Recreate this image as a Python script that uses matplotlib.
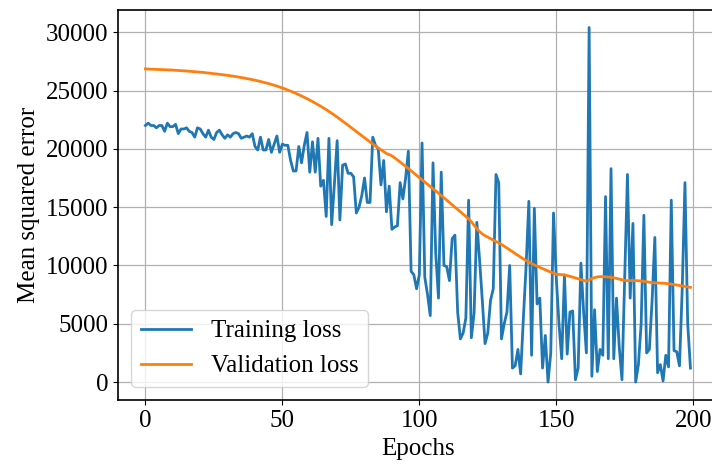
import matplotlib
matplotlib.use("Agg")
import matplotlib.pyplot as plt

plt.rcParams['font.family'] = ['Liberation Serif', 'DejaVu Serif']

# training loss per epoch (0..199)
train_loss = [
    22000, 22200, 22000, 22000, 21800, 22000, 22000, 21500, 22200, 21900,
    21900, 22100, 21300, 21700, 21700, 21800, 21500, 21400, 21000, 21800,
    21700, 21300, 21000, 21600, 21000, 20800, 21400, 21600, 21200, 20900,
    21200, 21000, 21300, 21400, 21300, 20900, 21000, 21100, 21000, 21300,
    20200, 19900, 21000, 19900, 19900, 20800, 19700, 20400, 21100, 19700,
    20400, 20300, 20300, 19000, 18100, 18100, 20200, 18800, 20300, 21400,
    18000, 20600, 18000, 20900, 16800, 17300, 14200, 20900, 13500, 17000,
    20700, 13900, 18600, 18700, 17900, 17900, 17600, 14500, 15000, 16000,
    17500, 15400, 15400, 21000, 20300, 20000, 16900, 19000, 14600, 16800,
    13100, 13300, 13400, 17100, 15700, 17500, 19800, 9500, 9200, 8000,
    9200, 20500, 9000, 7500, 5700, 18800, 11000, 7200, 18000, 10000,
    9900, 8700, 12300, 12600, 6000, 3700, 4200, 5500, 15600, 3800,
    5900, 13700, 10500, 7000, 3300, 4200, 7000, 8000, 17800, 17100,
    3700, 5000, 6000, 10000, 1200, 1400, 2800, 700, 5500, 10000,
    15500, 2300, 14900, 6700, 7200, 1200, 4000, 0, 2500, 14500,
    9000, 5000, 2000, 9200, 2400, 6000, 6100, 200, 1200, 10200,
    6000, 2500, 30400, 500, 6200, 900, 2800, 2300, 15900, 2000,
    18300, 2000, 7200, 3000, 200, 9000, 17800, 7200, 13600, 0,
    1500, 5000, 14300, 2500, 2800, 7000, 12400, 800, 1500, 100,
    2300, 1300, 15600, 2700, 2600, 1400, 8000, 17100, 5000, 1200,
]

# validation loss per epoch (0..199)
val_loss = [
    26850, 26840, 26830, 26820, 26810, 26800, 26790, 26780, 26770, 26760,
    26750, 26730, 26720, 26700, 26690, 26670, 26650, 26630, 26610, 26590,
    26570, 26550, 26520, 26500, 26470, 26440, 26420, 26390, 26360, 26330,
    26300, 26260, 26230, 26190, 26150, 26110, 26070, 26020, 25980, 25930,
    25880, 25830, 25770, 25710, 25650, 25590, 25520, 25450, 25380, 25300,
    25220, 25130, 25040, 24950, 24850, 24750, 24640, 24530, 24420, 24300,
    24180, 24050, 23920, 23790, 23650, 23510, 23360, 23210, 23050, 22890,
    22720, 22550, 22380, 22200, 22020, 21840, 21660, 21480, 21300, 21120,
    20940, 20760, 20580, 20410, 20240, 20080, 19920, 19760, 19600, 19500,
    19400, 19230, 19050, 18870, 18690, 18500, 18310, 18120, 17920, 17720,
    17530, 17340, 17150, 16960, 16770, 16580, 16390, 16190, 16000, 15800,
    15600, 15400, 15200, 15000, 14800, 14600, 14400, 14200, 14000, 13750,
    13450, 13150, 12900, 12700, 12550, 12420, 12300, 12180, 12060, 11930,
    11800, 11650, 11500, 11340, 11180, 11020, 10860, 10710, 10560, 10420,
    10290, 10160, 10040, 9930, 9830, 9730, 9630, 9530, 9430, 9330,
    9250, 9230, 9210, 9180, 9130, 9070, 9000, 8930, 8850, 8780,
    8720, 8650, 8750, 8880, 8960, 9020, 9040, 9040, 9030, 9010,
    8980, 8940, 8890, 8830, 8770, 8720, 8700, 8700, 8700, 8700,
    8690, 8670, 8640, 8600, 8560, 8530, 8510, 8500, 8490, 8480,
    8460, 8430, 8400, 8360, 8320, 8280, 8240, 8200, 8160, 8120,
]

epochs = list(range(len(train_loss)))

fig = plt.figure(figsize=(7.12, 4.66), dpi=100)
# the original figure is cropped on the right, so the axes run past the edge
ax = fig.add_axes([0.166, 0.142, 0.842, 0.837])

ax.plot(epochs, train_loss, color="#1f77b4", linewidth=2, label="Training loss")
ax.plot(epochs, val_loss, color="#ff7f0e", linewidth=2, label="Validation loss")

ax.grid(True, color="#b0b0b0", linewidth=0.9)
ax.set_axisbelow(True)
for s in ax.spines.values():
    s.set_linewidth(1.2)
ax.set_xlabel("Epochs", fontsize=18, labelpad=5)
ax.set_ylabel("Mean squared error", fontsize=18)
ax.tick_params(labelsize=18)
ax.set_xticks([0, 50, 100, 150, 200])
ax.legend(loc="lower left", fontsize=18)

fig.savefig("out.png", dpi=100)
